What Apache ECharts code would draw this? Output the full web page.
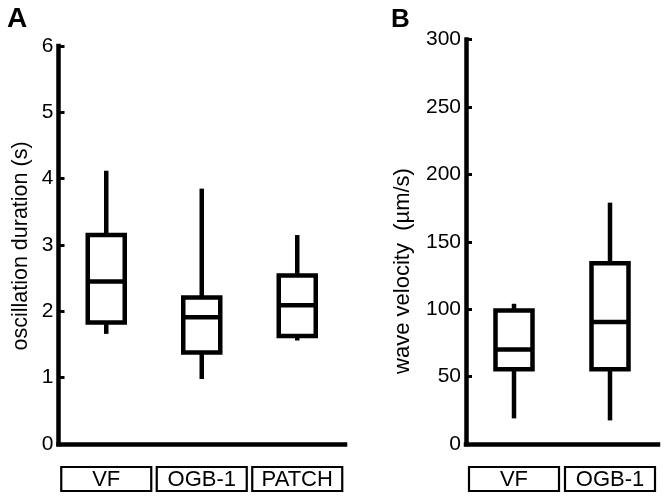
<!DOCTYPE html>
<html>
<head>
<meta charset="utf-8">
<script src="https://cdn.jsdelivr.net/npm/echarts@6/dist/echarts.min.js"></script>
<style>
html,body{margin:0;padding:0;background:#fff;}
#chart{width:666px;height:502px;}
</style>
</head>
<body>
<div id="chart"></div>
<script>
// Panel A: oscillation duration (s)
const categoriesA = ['VF', 'OGB-1', 'PATCH'];
const minA = [1.66, 0.98, 1.56];
const q1A = [1.83, 1.38, 1.63];
const medianA = [2.45, 1.91, 2.09];
const q3A = [3.15, 2.21, 2.54];
const maxA = [4.12, 3.85, 3.15];
const ticksA = [0, 1, 2, 3, 4, 5, 6];

// Panel B: wave velocity (µm/s)
const categoriesB = ['VF', 'OGB-1'];
const minB = [19, 17.5];
const q1B = [55.5, 55.5];
const medianB = [70, 90.5];
const q3B = [99, 134];
const maxB = [104, 179];
const ticksB = [0, 50, 100, 150, 200, 250, 300];

const FONT = "'Liberation Sans', Arial, sans-serif";
const LW = 4.5;

function boxRows(cats, mn, q1, md, q3, mx) {
  return cats.map((c, i) => [i, mn[i], q1[i], md[i], q3[i], mx[i]]);
}

function renderBox(params, api) {
  const x = api.value(0);
  const lo = api.coord([x, api.value(1)]);
  const b1 = api.coord([x, api.value(2)]);
  const md = api.coord([x, api.value(3)]);
  const b3 = api.coord([x, api.value(4)]);
  const hi = api.coord([x, api.value(5)]);
  const hw = 18.5;
  const st = { stroke: '#000', lineWidth: LW, fill: null, lineCap: 'butt' };
  return {
    type: 'group',
    children: [
      { type: 'line', shape: { x1: lo[0], y1: lo[1], x2: b1[0], y2: b1[1] }, style: st },
      { type: 'line', shape: { x1: b3[0], y1: b3[1], x2: hi[0], y2: hi[1] }, style: st },
      { type: 'rect', shape: { x: b3[0] - hw, y: b3[1], width: 2 * hw, height: b1[1] - b3[1] },
        style: { stroke: '#000', lineWidth: LW, fill: '#fff' } },
      { type: 'line', shape: { x1: md[0] - hw, y1: md[1], x2: md[0] + hw, y2: md[1] }, style: st }
    ]
  };
}

function xAxisCfg(gridIndex, cats) {
  return {
    type: 'category', gridIndex: gridIndex, data: cats, boundaryGap: true,
    axisLine: { show: true, lineStyle: { color: '#000', width: LW, cap: 'square' } },
    axisTick: { show: false },
    splitLine: { show: false },
    axisLabel: {
      interval: 0, fontFamily: FONT, fontSize: 22, color: '#000', margin: 23,
      borderColor: '#000', borderWidth: 2.2, width: 90, height: 24, lineHeight: 25,
      align: 'center', verticalAlign: 'top', overflow: 'none'
    }
  };
}

function yAxisCfg(gridIndex, ticks) {
  return {
    type: 'value', gridIndex: gridIndex,
    min: ticks[0], max: ticks[ticks.length - 1], interval: ticks[1] - ticks[0],
    axisLine: { show: true, lineStyle: { color: '#000', width: LW, cap: 'square' } },
    axisTick: { show: true, inside: true, length: 6, lineStyle: { color: '#000', width: 3 } },
    splitLine: { show: false },
    axisLabel: { fontFamily: FONT, fontSize: 21, color: '#000', margin: 5 }
  };
}

const chart = echarts.init(document.getElementById('chart'), null, { renderer: 'canvas' });
chart.setOption({
  backgroundColor: '#fff',
  animation: false,
  grid: [
    { left: 58.5, top: 46, width: 286.5, height: 398 },
    { left: 466, top: 39.5, width: 192, height: 404.5 }
  ],
  xAxis: [xAxisCfg(0, categoriesA), xAxisCfg(1, categoriesB)],
  yAxis: [yAxisCfg(0, ticksA), yAxisCfg(1, ticksB)],
  graphic: [
    { type: 'text', left: 7, top: 5, style: { text: 'A', fontFamily: FONT, fontSize: 28, fontWeight: 'bold', fill: '#000' } },
    { type: 'text', left: 391, top: 7, style: { text: 'B', fontFamily: FONT, fontSize: 26, fontWeight: 'bold', fill: '#000' } },
    { type: 'text', x: 21, y: 246, rotation: Math.PI / 2,
      style: { text: 'oscillation duration (s)', fontFamily: FONT, fontSize: 21.5, fill: '#000', align: 'center', verticalAlign: 'middle' } },
    { type: 'text', x: 403, y: 271, rotation: Math.PI / 2,
      style: { text: 'wave velocity  (µm/s)', fontFamily: FONT, fontSize: 22, fill: '#000', align: 'center', verticalAlign: 'middle' } }
  ],
  series: [
    { type: 'custom', xAxisIndex: 0, yAxisIndex: 0, renderItem: renderBox,
      encode: { x: 0, y: [1, 2, 3, 4, 5] },
      data: boxRows(categoriesA, minA, q1A, medianA, q3A, maxA) },
    { type: 'custom', xAxisIndex: 1, yAxisIndex: 1, renderItem: renderBox,
      encode: { x: 0, y: [1, 2, 3, 4, 5] },
      data: boxRows(categoriesB, minB, q1B, medianB, q3B, maxB) }
  ]
});
</script>
</body>
</html>
